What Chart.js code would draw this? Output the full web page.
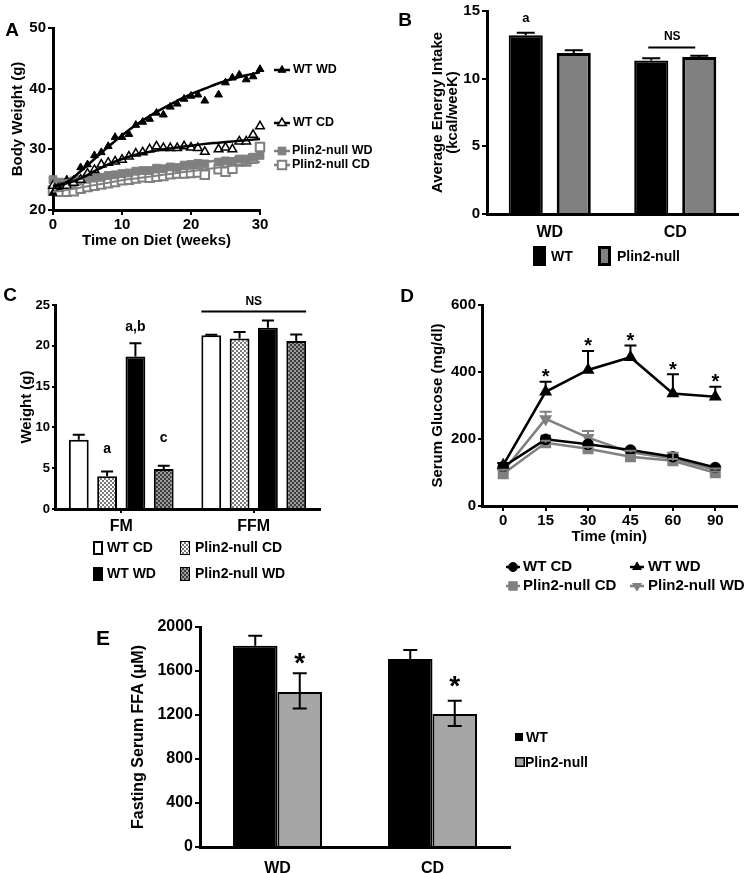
<!DOCTYPE html>
<html>
<head>
<meta charset="utf-8">
<script src="https://cdn.jsdelivr.net/npm/chart.js@4.4.1/dist/chart.umd.min.js"></script>
<style>
  body { margin: 0; background: #fff; width: 745px; height: 873px; position: relative; overflow: hidden; }
  canvas { position: absolute; }
</style>
</head>
<body>
<canvas id="chartA" width="372" height="260" style="left:0;top:0"></canvas>
<canvas id="chartB" width="370" height="275" style="left:375px;top:0"></canvas>
<canvas id="chartC" width="370" height="310" style="left:0;top:280px"></canvas>
<canvas id="chartD" width="370" height="315" style="left:375px;top:280px"></canvas>
<canvas id="chartE" width="520" height="273" style="left:95px;top:600px"></canvas>
<script>
// ---- A: body weight over time (weeks) ----
const weeksA = [0,1,2,3,4,5,6,7,8,9,10,11,12,13,14,15,16,17,18,19,20,21,22,24,25,26,27,28,29,30];
const wtWD_A = [22.8,23.5,25,25,27,27.5,29,29.5,30.5,32,32,32.5,34,34.5,35,36,35.7,37,37.5,38.3,38.8,39,38,39,41,41.8,42.3,41.5,42,43.2];
const wtCD_A = [24,24,24,24.5,25,26,26.6,27.5,27.8,28,28.3,28.8,29.3,29.5,30,30.5,30.2,30.2,30.2,30.5,30.3,30.2,29.6,30,30.3,30,31.3,31.3,32.4,33.8];
const nullWD_A = [25,24.6,24.5,24.8,25,25.3,25.4,25.4,25.7,25.8,26,26.1,26.4,26.5,26.5,26.9,26.8,27.1,27,27.4,27.5,27.7,27.6,27.9,28.1,28,28.4,28.4,28.7,29];
const nullCD_A = [23.2,23,23,23.1,23.5,23.8,24,24.2,24.4,24.6,24.9,25,25.2,25.4,25.3,25.5,25.6,25.9,26,26,26.1,26.2,25.8,26.7,26.3,26.8,28,28,28.5,30.4];
// fitted curves, read at every 2nd week
const fitWeeks = [0,2,4,6,8,10,12,14,16,18,20,22,24,26,28,30];
const fitWtWD = [23.8,24.6,26.4,28.4,30.4,32.3,34,35.5,36.8,38,39.1,40,40.9,41.6,42.2,42.7];
const fitWtCD = [24,24.4,25.2,26.4,27.5,28.4,29.1,29.6,30,30.3,30.6,30.9,31.1,31.3,31.5,31.7];
const fitNullWD = [24.6,24.9,25.2,25.5,25.8,26.1,26.4,26.7,27,27.3,27.6,27.9,28.2,28.5,28.8,29];
const fitNullCD = [23,23.3,23.7,24.1,24.5,24.9,25.2,25.5,25.8,26.1,26.4,26.7,27,27.3,27.6,27.9];

// ---- B: energy intake ----
const dietB = ['WD', 'CD'];
const wtB = [13.2, 11.35];
const nullB = [11.9, 11.6];
const wtBErr = [13.4, 11.5];
const nullBErr = [12.1, 11.7];

// ---- C: fat mass / fat free mass ----
const massC = ['FM', 'FFM'];
const wtCD_C = [8.5, 21.3];
const nullCD_C = [4.0, 20.9];
const wtWD_C = [18.7, 22.2];
const nullWD_C = [4.9, 20.6];
const wtCD_CErr = [9.1, 21.35];
const nullCD_CErr = [4.6, 21.7];
const wtWD_CErr = [20.3, 23.1];
const nullWD_CErr = [5.3, 21.4];

// ---- D: glucose tolerance ----
const timeD = ['0', '15', '30', '45', '60', '90'];
const wtCD_D = [117, 199, 184, 167, 147, 115];
const wtWD_D = [122, 341, 406, 444, 336, 326];
const nullCD_D = [96, 189, 171, 147, 135, 99];
const nullWD_D = [104, 260, 204, 160, 142, 107];
const wtCD_DErr = [122, 210, 190, 172, 152, 119];
const wtWD_DErr = [128, 371, 463, 479, 393, 356];
const nullCD_DErr = [100, 195, 176, 152, 140, 103];
const nullWD_DErr = [108, 281, 224, 165, 159, 112];

// ---- E: fasting serum FFA ----
const dietE = ['WD', 'CD'];
const wtE = [1830, 1710];
const nullE = [1410, 1210];
const wtEUp = [1920, 1790];
const nullEUp = [1580, 1330];
const nullEDown = [1260, 1100];

const FONT = '"Liberation Sans", Arial, Helvetica, sans-serif';
const GRAY = '#808080';
Chart.defaults.font.family = FONT;
Chart.defaults.font.weight = 'bold';
Chart.defaults.color = '#000';
Chart.defaults.animation = false;
Chart.defaults.responsive = false;
Chart.defaults.plugins.legend.display = false;
Chart.defaults.plugins.tooltip.enabled = false;

function pattern(bg, fg) {
  const c = document.createElement('canvas');
  c.width = c.height = 4;
  const x = c.getContext('2d');
  x.fillStyle = bg; x.fillRect(0, 0, 4, 4);
  x.fillStyle = fg; x.fillRect(0, 0, 2, 2); x.fillRect(2, 2, 2, 2);
  return x.createPattern(c, 'repeat');
}
const PAT_LIGHT = pattern('#7a7a7a', '#ffffff');
const PAT_DARK = pattern('#3c3c3c', '#9a9a9a');

function axis(o) {
  return {
    type: o.type || 'linear',
    min: o.min, max: o.max,
    offset: !!o.offset,
    ticks: { stepSize: o.step, font: { size: o.tick, weight: 'bold' }, padding: o.pad, color: '#000',
      autoSkip: false, maxRotation: 0, format: { useGrouping: false } },
    grid: { drawOnChartArea: false, drawTicks: o.tl > 0, tickLength: o.tl || 0, color: '#000', lineWidth: 2, offset: false },
    border: { display: true, color: '#000', width: 3 },
    title: o.title ? { display: true, text: o.title, color: '#000', padding: 0,
      font: { size: o.tsize, weight: 'bold', lineHeight: o.lh || 1.2 } } : { display: false },
    afterFit: s => { if (o.w) s.width = o.w; if (o.h) s.height = o.h; }
  };
}

const errorBars = {
  id: 'errorBars',
  afterDatasetsDraw(chart) {
    const ctx = chart.ctx, ys = chart.scales.y;
    chart.data.datasets.forEach((ds, di) => {
      if (!ds.errUp) return;
      const meta = chart.getDatasetMeta(di);
      ctx.save();
      ctx.strokeStyle = ds.errColor || '#000';
      ctx.lineWidth = ds.errWidth || 2;
      meta.data.forEach((el, i) => {
        const y0 = ys.getPixelForValue(ds.data[i]);
        [ds.errUp, ds.errDown].forEach(arr => {
          if (!arr || arr[i] == null) return;
          const y1 = ys.getPixelForValue(arr[i]);
          ctx.beginPath();
          ctx.moveTo(el.x, y0); ctx.lineTo(el.x, y1);
          ctx.moveTo(el.x - ds.errCap, y1); ctx.lineTo(el.x + ds.errCap, y1);
          ctx.stroke();
        });
      });
      ctx.restore();
    });
  }
};

function txt(ctx, s, x, y, size, align) {
  ctx.save();
  ctx.font = 'bold ' + size + 'px ' + FONT;
  ctx.fillStyle = '#000';
  ctx.textAlign = align || 'left';
  ctx.textBaseline = 'middle';
  ctx.fillText(s, x, y);
  ctx.restore();
}
function marker(ctx, x, y, o) {
  ctx.save();
  if (o.line) {
    ctx.strokeStyle = o.line; ctx.lineWidth = 2.5;
    ctx.beginPath(); ctx.moveTo(x - o.len, y); ctx.lineTo(x + o.len, y); ctx.stroke();
  }
  ctx.fillStyle = o.fill; ctx.strokeStyle = o.stroke; ctx.lineWidth = o.bw;
  Chart.helpers.drawPoint(ctx, { pointStyle: o.style, radius: o.r, rotation: o.rot || 0, borderWidth: o.bw }, x, y);
  ctx.restore();
}
function box(ctx, x, y, w, h, fill, bw) {
  ctx.save();
  ctx.fillStyle = '#000'; ctx.fillRect(x, y, w, h);
  ctx.fillStyle = fill; ctx.fillRect(x + bw, y + bw, w - 2 * bw, h - 2 * bw);
  ctx.restore();
}

// ---------- A ----------
const pts = (xs, ys) => xs.map((x, i) => ({ x: x, y: ys[i] }));
new Chart(document.getElementById('chartA'), {
  type: 'scatter',
  data: {
    datasets: [
      { data: pts(fitWeeks, fitWtWD), showLine: true, borderColor: '#000', borderWidth: 2.5, pointRadius: 0, tension: 0.4 },
      { data: pts(fitWeeks, fitWtCD), showLine: true, borderColor: '#000', borderWidth: 2.5, pointRadius: 0, tension: 0.4 },
      { data: pts(fitWeeks, fitNullWD), showLine: true, borderColor: GRAY, borderWidth: 2.5, pointRadius: 0, tension: 0.4 },
      { data: pts(fitWeeks, fitNullCD), showLine: true, borderColor: GRAY, borderWidth: 2, pointRadius: 0, tension: 0.4 },
      { data: pts(weeksA, wtWD_A), pointStyle: 'triangle', pointRadius: 4.5, backgroundColor: '#000', borderColor: '#000', pointBorderWidth: 1 },
      { data: pts(weeksA, wtCD_A), pointStyle: 'triangle', pointRadius: 5, backgroundColor: '#fff', borderColor: '#000', pointBorderWidth: 1.5 },
      { data: pts(weeksA, nullWD_A), pointStyle: 'rect', pointRadius: 5.5, backgroundColor: GRAY, borderColor: GRAY, pointBorderWidth: 1 },
      { data: pts(weeksA, nullCD_A), pointStyle: 'rect', pointRadius: 6, backgroundColor: '#fff', borderColor: GRAY, pointBorderWidth: 2 }
    ].map(d => Object.assign(d, { clip: false }))
  },
  options: {
    layout: { padding: { left: 9, right: 112, top: 28, bottom: 10 } },
    scales: {
      x: axis({ min: 0, max: 30, step: 10, tick: 15, tl: 5, pad: 1, h: 40, title: 'Time on Diet (weeks)', tsize: 15 }),
      y: axis({ min: 20, max: 50, step: 10, tick: 15, tl: 5, pad: 2, w: 44, title: 'Body Weight (g)', tsize: 15 })
    }
  },
  plugins: [{
    id: 'extraA',
    afterDraw(chart) {
      const ctx = chart.ctx;
      txt(ctx, 'A', 12, 31, 19, 'center');
      marker(ctx, 282, 70, { line: '#000', len: 8, style: 'triangle', r: 4.5, fill: '#000', stroke: '#000', bw: 1 });
      txt(ctx, 'WT WD', 293, 70, 12.5);
      marker(ctx, 282, 123, { line: '#000', len: 8, style: 'triangle', r: 5, fill: '#fff', stroke: '#000', bw: 1.5 });
      txt(ctx, 'WT CD', 293, 123, 12.5);
      marker(ctx, 282, 151, { line: GRAY, len: 8, style: 'rect', r: 5.5, fill: GRAY, stroke: GRAY, bw: 1 });
      txt(ctx, 'Plin2-null WD', 292, 151, 12.5);
      marker(ctx, 282, 165, { line: GRAY, len: 8, style: 'rect', r: 6, fill: '#fff', stroke: GRAY, bw: 2 });
      txt(ctx, 'Plin2-null CD', 292, 165, 12.5);
    }
  }]
});

// ---------- B ----------
new Chart(document.getElementById('chartB'), {
  type: 'bar',
  data: {
    labels: dietB,
    datasets: [
      { data: wtB, backgroundColor: '#000', borderColor: '#000', borderWidth: 2, errUp: wtBErr, errCap: 9 },
      { data: nullB, backgroundColor: GRAY, borderColor: '#000', borderWidth: 3, errUp: nullBErr, errCap: 9 }
    ]
  },
  options: {
    layout: { padding: { left: 55, right: 7, top: 5, bottom: 21 } },
    datasets: { bar: { categoryPercentage: 0.765, barPercentage: 0.71 } },
    scales: {
      x: axis({ type: 'category', offset: true, tick: 16, tl: 0, pad: 9, h: 40 }),
      y: axis({ min: 0, max: 15, step: 5, tick: 15, tl: 5, pad: 2, w: 57, title: ['Average Energy Intake', '(kcal/weeK)'], tsize: 15, lh: 1.0 })
    }
  },
  plugins: [errorBars, {
    id: 'extraB',
    afterDraw(chart) {
      const ctx = chart.ctx, ys = chart.scales.y;
      const b0 = chart.getDatasetMeta(0).data, b1 = chart.getDatasetMeta(1).data;
      txt(ctx, 'B', 30, 21, 19, 'center');
      txt(ctx, 'a', b0[0].x, ys.getPixelForValue(wtBErr[0]) - 14, 13, 'center');
      ctx.save();
      ctx.strokeStyle = '#000'; ctx.lineWidth = 2;
      ctx.beginPath();
      ctx.moveTo(b0[1].x - 3, ys.getPixelForValue(12.3));
      ctx.lineTo(b1[1].x - 4, ys.getPixelForValue(12.3));
      ctx.stroke();
      ctx.restore();
      txt(ctx, 'NS', (b0[1].x + b1[1].x) / 2 - 3, ys.getPixelForValue(13.1), 12, 'center');
      box(ctx, 158, 246, 13, 20, '#000', 2);
      txt(ctx, 'WT', 176, 257, 14);
      box(ctx, 223, 246, 13, 20, GRAY, 3);
      txt(ctx, 'Plin2-null', 242, 257, 14);
    }
  }]
});

// ---------- C ----------
new Chart(document.getElementById('chartC'), {
  type: 'bar',
  data: {
    labels: massC,
    datasets: [
      { data: wtCD_C, backgroundColor: '#fff', borderColor: '#000', borderWidth: 2, errUp: wtCD_CErr, errCap: 6 },
      { data: nullCD_C, backgroundColor: PAT_LIGHT, borderColor: '#000', borderWidth: 2, errUp: nullCD_CErr, errCap: 6 },
      { data: wtWD_C, backgroundColor: '#000', borderColor: '#000', borderWidth: 2, errUp: wtWD_CErr, errCap: 6 },
      { data: nullWD_C, backgroundColor: PAT_DARK, borderColor: '#000', borderWidth: 2, errUp: nullWD_CErr, errCap: 6 }
    ]
  },
  options: {
    layout: { padding: { left: 18, right: 50, top: 25, bottom: 51 } },
    datasets: { bar: { categoryPercentage: 0.855, barPercentage: 0.7 } },
    scales: {
      x: axis({ type: 'category', offset: true, tick: 16, tl: 4, pad: 4, h: 30 }),
      y: axis({ min: 0, max: 25, step: 5, tick: 13, tl: 3, pad: 2, w: 37, title: 'Weight (g)', tsize: 15 })
    }
  },
  plugins: [errorBars, {
    id: 'extraC',
    afterDraw(chart) {
      const ctx = chart.ctx, ys = chart.scales.y;
      const bar = (d, i) => chart.getDatasetMeta(d).data[i];
      txt(ctx, 'C', 10, 16, 19, 'center');
      txt(ctx, 'a', bar(1, 0).x, ys.getPixelForValue(7.35), 14, 'center');
      txt(ctx, 'a,b', bar(2, 0).x, ys.getPixelForValue(22.3), 14, 'center');
      txt(ctx, 'c', bar(3, 0).x, ys.getPixelForValue(8.7), 14, 'center');
      const l = bar(0, 1), r = bar(3, 1);
      ctx.save();
      ctx.strokeStyle = '#000'; ctx.lineWidth = 2;
      ctx.beginPath();
      ctx.moveTo(l.x - l.width / 2, ys.getPixelForValue(24.2));
      ctx.lineTo(r.x + r.width / 2, ys.getPixelForValue(24.2));
      ctx.stroke();
      ctx.restore();
      txt(ctx, 'NS', (l.x + r.x) / 2, ys.getPixelForValue(25.4), 12, 'center');
      box(ctx, 93, 261, 10, 14, '#fff', 2);
      txt(ctx, 'WT CD', 107, 268, 14);
      box(ctx, 180, 261, 10, 14, PAT_LIGHT, 1);
      txt(ctx, 'Plin2-null CD', 195, 268, 14);
      box(ctx, 93, 287, 10, 14, '#000', 2);
      txt(ctx, 'WT WD', 107, 294, 14);
      box(ctx, 180, 287, 10, 14, PAT_DARK, 1);
      txt(ctx, 'Plin2-null WD', 195, 294, 14);
    }
  }]
});

// ---------- D ----------
new Chart(document.getElementById('chartD'), {
  type: 'line',
  data: {
    labels: timeD,
    datasets: [
      { data: wtCD_D, borderColor: '#000', backgroundColor: '#000', pointStyle: 'circle', pointRadius: 4.5, borderWidth: 2.5, errUp: wtCD_DErr, errCap: 5 },
      { data: wtWD_D, borderColor: '#000', backgroundColor: '#000', pointStyle: 'triangle', pointRadius: 5, borderWidth: 2.5, errUp: wtWD_DErr, errCap: 6 },
      { data: nullCD_D, borderColor: GRAY, backgroundColor: GRAY, pointStyle: 'rect', pointRadius: 6, borderWidth: 2.5, errUp: nullCD_DErr, errCap: 5, errColor: GRAY },
      { data: nullWD_D, borderColor: GRAY, backgroundColor: GRAY, pointStyle: 'triangle', pointRotation: 180, pointRadius: 5, borderWidth: 2.5, errUp: nullWD_DErr, errCap: 6, errColor: GRAY }
    ]
  },
  options: {
    layout: { padding: { left: 54, right: 8, top: 25, bottom: 49 } },
    scales: {
      x: axis({ type: 'category', offset: true, tick: 15, tl: 5, pad: 1, h: 40, title: 'Time (min)', tsize: 15 }),
      y: axis({ min: 0, max: 600, step: 200, tick: 15, tl: 4, pad: 2, w: 53, title: 'Serum Glucose (mg/dl)', tsize: 15 })
    }
  },
  plugins: [errorBars, {
    id: 'extraD',
    afterDraw(chart) {
      const ctx = chart.ctx, ys = chart.scales.y;
      const pts = chart.getDatasetMeta(1).data;
      txt(ctx, 'D', 32, 17, 19, 'center');
      for (let i = 1; i < pts.length; i++) {
        txt(ctx, '*', pts[i].x, ys.getPixelForValue(wtWD_DErr[i]) - 4, 20, 'center');
      }
      marker(ctx, 138, 287, { line: '#000', len: 7, style: 'circle', r: 4.5, fill: '#000', stroke: '#000', bw: 1 });
      txt(ctx, 'WT CD', 148, 287, 15);
      marker(ctx, 262, 287, { line: '#000', len: 7, style: 'triangle', r: 5, fill: '#000', stroke: '#000', bw: 1 });
      txt(ctx, 'WT WD', 273, 287, 15);
      marker(ctx, 138, 306, { line: GRAY, len: 7, style: 'rect', r: 6, fill: GRAY, stroke: GRAY, bw: 1 });
      txt(ctx, 'Plin2-null CD', 148, 306, 15);
      marker(ctx, 262, 306, { line: GRAY, len: 7, style: 'triangle', rot: 180, r: 5, fill: GRAY, stroke: GRAY, bw: 1 });
      txt(ctx, 'Plin2-null WD', 273, 306, 15);
    }
  }]
});

// ---------- E ----------
new Chart(document.getElementById('chartE'), {
  type: 'bar',
  data: {
    labels: dietE,
    datasets: [
      { data: wtE, backgroundColor: '#000', borderColor: '#000', borderWidth: 2, errUp: wtEUp, errCap: 7 },
      { data: nullE, backgroundColor: '#a6a6a6', borderColor: '#000', borderWidth: 2, errUp: nullEUp, errDown: nullEDown, errCap: 7 }
    ]
  },
  options: {
    layout: { padding: { left: 34, right: 105, top: 27, bottom: 0 } },
    datasets: { bar: { categoryPercentage: 0.574, barPercentage: 1 } },
    scales: {
      x: axis({ type: 'category', offset: true, tick: 16, tl: 0, pad: 12, h: 26 }),
      y: axis({ min: 0, max: 2000, step: 400, tick: 16, tl: 5, pad: 2, w: 71, title: 'Fasting Serum FFA (\u03bcM)', tsize: 16 })
    }
  },
  plugins: [errorBars, {
    id: 'extraE',
    afterDraw(chart) {
      const ctx = chart.ctx, ys = chart.scales.y;
      const b1 = chart.getDatasetMeta(1).data;
      txt(ctx, 'E', 8, 39, 21, 'center');
      txt(ctx, '*', b1[0].x, ys.getPixelForValue(1700) + 4, 28, 'center');
      txt(ctx, '*', b1[1].x, ys.getPixelForValue(1490) + 4, 28, 'center');
      box(ctx, 420, 133, 8, 8, '#000', 1);
      txt(ctx, 'WT', 431, 138, 14);
      box(ctx, 420, 157, 10, 10, '#a6a6a6', 1.5);
      txt(ctx, 'Plin2-null', 430, 163, 14);
    }
  }]
});
</script>
</body>
</html>
